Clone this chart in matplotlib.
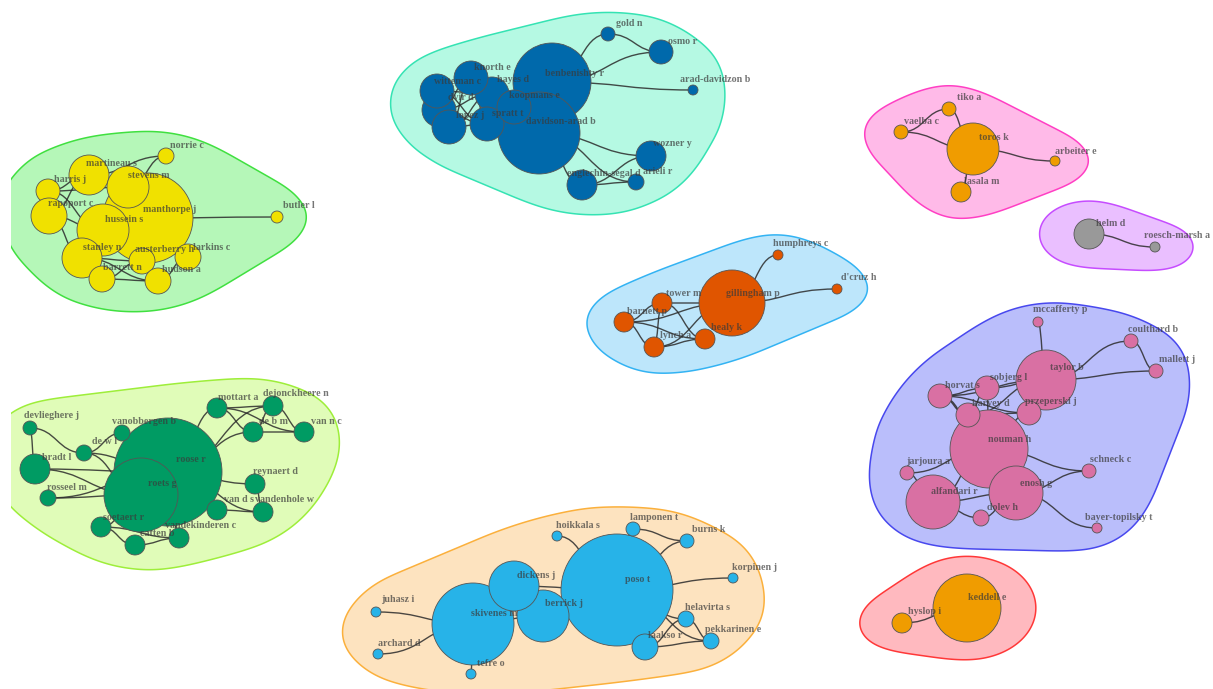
import numpy as np
import matplotlib.pyplot as plt
from matplotlib.path import Path
from matplotlib.patches import PathPatch, Circle, Polygon


# node tables: name, x, y, radius, label x, label y  (layout in pixels)
yellow_nodes = [
    ("manthorpe j", 148, 218, 45, 143, 209),
    ("hussein s", 103, 230, 26, 105, 220),
    ("martineau s", 89, 175, 20, 86, 163),
    ("stevens m", 128, 187, 21, 128, 175),
    ("harris j", 48, 191, 12, 54, 180),
    ("rapoport c", 49, 216, 18, 48, 203),
    ("stanley n", 82, 258, 20, 83, 247),
    ("austerberry h", 142, 261, 13, 135, 249),
    ("larkins c", 188, 257, 13, 193, 247),
    ("barrett n", 102, 279, 13, 103, 268),
    ("hudson a", 158, 281, 13, 162, 270),
    ("norrie c", 166, 156, 8, 170, 145),
    ("butler l", 277, 217, 6, 283, 206),
]
yellow_edges = [
    ("norrie c", "martineau s"), ("norrie c", "stevens m"), ("butler l", "manthorpe j"),
    ("harris j", "martineau s"), ("harris j", "rapoport c"), ("harris j", "hussein s"),
    ("rapoport c", "hussein s"), ("rapoport c", "stanley n"), ("martineau s", "stevens m"),
    ("stanley n", "barrett n"), ("stanley n", "austerberry h"), ("barrett n", "hudson a"),
    ("austerberry h", "hudson a"), ("hudson a", "larkins c"), ("barrett n", "austerberry h"),
    ("rapoport c", "martineau s"), ("harris j", "stevens m"), ("stanley n", "hudson a"),
]

blue_nodes = [
    ("benbenishty r", 552, 82, 39, 545, 74),
    ("davidson-arad b", 539, 133, 41, 526, 122),
    ("hayes d", 492, 94, 17, 497, 80),
    ("knorth e", 471, 78, 17, 474, 67),
    ("dvir d", 439, 110, 17, 448, 97),
    ("witteman c", 437, 91, 17, 434, 81),
    ("lopez j", 449, 127, 17, 456, 116),
    ("spratt t", 487, 124, 17, 492, 113),
    ("koopmans e", 514, 107, 17, 509, 95),
    ("gold n", 608, 34, 7, 616, 23),
    ("osmo r", 661, 52, 12, 668, 41),
    ("arad-davidzon b", 693, 90, 5, 680, 79),
    ("wozner y", 651, 156, 15, 653, 144),
    ("englechin-segal d", 582, 185, 15, 567, 173),
    ("arieli r", 636, 182, 8, 643, 172),
]
blue_edges = [
    ("gold n", "benbenishty r"), ("gold n", "osmo r"), ("osmo r", "benbenishty r"),
    ("arad-davidzon b", "benbenishty r"), ("davidson-arad b", "wozner y"),
    ("davidson-arad b", "arieli r"), ("davidson-arad b", "englechin-segal d"),
    ("englechin-segal d", "wozner y"), ("englechin-segal d", "arieli r"),
    ("witteman c", "lopez j"), ("witteman c", "spratt t"), ("dvir d", "knorth e"),
    ("dvir d", "spratt t"), ("lopez j", "hayes d"), ("knorth e", "lopez j"),
    ("hayes d", "koopmans e"), ("witteman c", "hayes d"), ("dvir d", "hayes d"),
    ("lopez j", "spratt t"), ("knorth e", "spratt t"),
]

toros_nodes = [
    ("toros k", 973, 149, 26, 979, 138),
    ("tiko a", 949, 109, 7, 957, 98),
    ("vaelba c", 901, 132, 7, 904, 122),
    ("arbeiter e", 1055, 161, 5, 1055, 151),
    ("lasala m", 961, 192, 10, 964, 182),
]
toros_edges = [
    ("tiko a", "vaelba c"), ("tiko a", "toros k"), ("vaelba c", "toros k"),
    ("toros k", "arbeiter e"), ("toros k", "lasala m"),
]

helm_nodes = [
    ("helm d", 1089, 234, 15, 1096, 224),
    ("roesch-marsh a", 1155, 247, 5, 1144, 236),
]
helm_edges = [("helm d", "roesch-marsh a")]

gill_nodes = [
    ("gillingham p", 732, 303, 33, 726, 293),
    ("tower m", 662, 303, 10, 666, 293),
    ("barnett p", 624, 322, 10, 627, 311),
    ("lynch a", 654, 347, 10, 660, 335),
    ("healy k", 705, 339, 10, 711, 328),
    ("humphreys c", 778, 255, 5, 773, 244),
    ("d'cruz h", 837, 289, 5, 841, 278),
]
gill_edges = [
    ("humphreys c", "gillingham p"), ("d'cruz h", "gillingham p"), ("tower m", "gillingham p"),
    ("barnett p", "tower m"), ("barnett p", "gillingham p"), ("barnett p", "lynch a"),
    ("barnett p", "healy k"), ("lynch a", "healy k"), ("tower m", "healy k"),
    ("lynch a", "gillingham p"), ("tower m", "lynch a"),
]

green_nodes = [
    ("roose r", 168, 472, 54, 176, 459),
    ("roets g", 141, 495, 37, 148, 484),
    ("devlieghere j", 30, 428, 7, 24, 416),
    ("bradt l", 35, 469, 15, 42, 458),
    ("rosseel m", 48, 498, 8, 47, 488),
    ("de w l", 84, 453, 8, 92, 442),
    ("vanobbergen b", 122, 433, 8, 112, 422),
    ("mottart a", 217, 408, 10, 218, 397),
    ("dejonckheere n", 273, 406, 10, 263, 394),
    ("de b m", 253, 432, 10, 259, 422),
    ("van n c", 304, 432, 10, 311, 421),
    ("reynaert d", 255, 484, 10, 253, 472),
    ("van d s", 217, 510, 10, 224, 500),
    ("vandenhole w", 263, 512, 10, 255, 500),
    ("soetaert r", 101, 527, 10, 103, 517),
    ("vandekinderen c", 179, 538, 10, 165, 526),
    ("catten b", 135, 545, 10, 140, 533),
]
green_edges = [
    ("devlieghere j", "bradt l"), ("devlieghere j", "de w l"), ("de w l", "vanobbergen b"),
    ("de w l", "roose r"), ("bradt l", "roose r"), ("bradt l", "roets g"),
    ("rosseel m", "roets g"), ("rosseel m", "roose r"), ("mottart a", "dejonckheere n"),
    ("mottart a", "de b m"), ("dejonckheere n", "van n c"), ("de b m", "van n c"),
    ("dejonckheere n", "de b m"), ("mottart a", "roose r"), ("de b m", "roose r"),
    ("dejonckheere n", "roose r"), ("reynaert d", "roose r"), ("van d s", "roose r"),
    ("vandenhole w", "roose r"), ("reynaert d", "vandenhole w"), ("van d s", "vandenhole w"),
    ("soetaert r", "catten b"), ("soetaert r", "vandekinderen c"),
    ("catten b", "vandekinderen c"), ("soetaert r", "roets g"),
    ("vandekinderen c", "roose r"), ("mottart a", "van n c"), ("de w l", "roets g"),
]

pink_nodes = [
    ("nouman h", 989, 449, 39, 988, 439),
    ("taylor b", 1046, 380, 30, 1050, 368),
    ("alfandari r", 933, 502, 27, 931, 491),
    ("enosh g", 1016, 493, 27, 1020, 483),
    ("sobjerg l", 987, 388, 12, 990, 377),
    ("horvat s", 940, 396, 12, 945, 385),
    ("karvey d", 968, 415, 12, 972, 403),
    ("przeperski j", 1029, 413, 12, 1025, 402),
    ("mccafferty p", 1038, 322, 5, 1033, 310),
    ("coulthard b", 1131, 341, 7, 1128, 329),
    ("mallett j", 1156, 371, 7, 1159, 359),
    ("jarjoura a", 907, 473, 7, 906, 462),
    ("schneck c", 1089, 471, 7, 1090, 459),
    ("dolev h", 981, 518, 8, 987, 507),
    ("bayer-topilsky t", 1097, 528, 5, 1085, 517),
]
pink_edges = [
    ("mccafferty p", "taylor b"), ("coulthard b", "taylor b"), ("coulthard b", "mallett j"),
    ("mallett j", "taylor b"), ("horvat s", "sobjerg l"), ("horvat s", "karvey d"),
    ("horvat s", "przeperski j"), ("horvat s", "nouman h"), ("sobjerg l", "taylor b"),
    ("sobjerg l", "karvey d"), ("karvey d", "przeperski j"), ("karvey d", "taylor b"),
    ("przeperski j", "nouman h"), ("sobjerg l", "nouman h"), ("jarjoura a", "nouman h"),
    ("jarjoura a", "alfandari r"), ("alfandari r", "enosh g"), ("alfandari r", "dolev h"),
    ("enosh g", "dolev h"), ("enosh g", "schneck c"), ("nouman h", "schneck c"),
    ("enosh g", "bayer-topilsky t"), ("alfandari r", "nouman h"), ("horvat s", "taylor b"),
]

bottom_nodes = [
    ("poso t", 617, 590, 56, 625, 579),
    ("skivenes m", 473, 624, 41, 471, 614),
    ("berrick j", 543, 616, 26, 545, 604),
    ("dickens j", 514, 586, 25, 517, 575),
    ("hoikkala s", 557, 536, 5, 556, 525),
    ("lamponen t", 633, 529, 7, 630, 517),
    ("burns k", 687, 541, 7, 692, 530),
    ("korpinen j", 733, 578, 5, 732, 567),
    ("juhasz i", 376, 612, 5, 381, 600),
    ("archard d", 378, 654, 5, 378, 644),
    ("tefre o", 471, 674, 5, 477, 664),
    ("helavirta s", 686, 619, 8, 685, 608),
    ("pekkarinen e", 711, 641, 8, 705, 629),
    ("laakso r", 645, 647, 13, 648, 636),
]
bottom_edges = [
    ("hoikkala s", "poso t"), ("lamponen t", "burns k"), ("lamponen t", "poso t"),
    ("burns k", "poso t"), ("korpinen j", "poso t"), ("dickens j", "poso t"),
    ("dickens j", "skivenes m"), ("berrick j", "skivenes m"), ("juhasz i", "skivenes m"),
    ("archard d", "skivenes m"), ("tefre o", "skivenes m"), ("helavirta s", "poso t"),
    ("helavirta s", "laakso r"), ("helavirta s", "pekkarinen e"),
    ("laakso r", "pekkarinen e"), ("poso t", "pekkarinen e"), ("poso t", "laakso r"),
]

keddell_nodes = [
    ("keddell e", 967, 608, 34, 968, 597),
    ("hyslop i", 902, 623, 10, 908, 611),
]
keddell_edges = [("hyslop i", "keddell e")]

# cluster: nodes, edges, node colour, hull fill, hull line
clusters = [
    (yellow_nodes, yellow_edges, "#f0e100", "#b5f7b8", "#40e040"),
    (blue_nodes, blue_edges, "#0069ab", "#b5f9e3", "#35e3b3"),
    (toros_nodes, toros_edges, "#f09c00", "#ffbae8", "#ff3fc4"),
    (helm_nodes, helm_edges, "#999999", "#eabfff", "#c64cff"),
    (gill_nodes, gill_edges, "#e05500", "#bde6fb", "#33b3f3"),
    (green_nodes, green_edges, "#009b63", "#e0fcb8", "#9eee3a"),
    (pink_nodes, pink_edges, "#d970a3", "#babefb", "#4848ee"),
    (bottom_nodes, bottom_edges, "#27b3e8", "#fde3bf", "#fbb03c"),
    (keddell_nodes, keddell_edges, "#f09c00", "#ffb9bf", "#ff3838"),
]


def convex_hull(pts):
    pts = sorted(set(pts))
    def cross(o, a, b):
        return (a[0] - o[0]) * (b[1] - o[1]) - (a[1] - o[1]) * (b[0] - o[0])
    lower, upper = [], []
    for p in pts:
        while len(lower) >= 2 and cross(lower[-2], lower[-1], p) <= 0:
            lower.pop()
        lower.append(p)
    for p in reversed(pts):
        while len(upper) >= 2 and cross(upper[-2], upper[-1], p) <= 0:
            upper.pop()
        upper.append(p)
    return lower[:-1] + upper[:-1]


def hull_shape(nodes, padx=38, pady=19, n=600, win=0.12):
    t = np.linspace(0, 2 * np.pi, 60, endpoint=False)
    pts = []
    for _, x, y, r, _, _ in nodes:
        xs = x + (r + padx) * np.cos(t)
        ys = y + (r + pady) * np.sin(t)
        pts += [(round(a, 2), round(b, 2)) for a, b in zip(xs, ys)]
    h = np.array(convex_hull(pts))
    # resample evenly along the outline, then smooth it (periodic moving average)
    closed = np.vstack([h, h[:1]])
    seg = np.hypot(*np.diff(closed, axis=0).T)
    s = np.concatenate([[0], np.cumsum(seg)])
    u = np.linspace(0, s[-1], n, endpoint=False)
    rx = np.interp(u, s, closed[:, 0])
    ry = np.interp(u, s, closed[:, 1])
    k = max(3, int(n * win))
    kern = np.ones(k) / k
    sx = np.convolve(np.concatenate([rx[-k:], rx, rx[:k]]), kern, mode="same")[k:-k]
    sy = np.convolve(np.concatenate([ry[-k:], ry, ry[:k]]), kern, mode="same")[k:-k]
    return np.column_stack([sx, sy])


def edge_path(p0, p1):
    xm = (p0[0] + p1[0]) / 2
    verts = [p0, (xm, p0[1]), (xm, p1[1]), p1]
    return Path(verts, [Path.MOVETO, Path.CURVE4, Path.CURVE4, Path.CURVE4])


fig = plt.figure(figsize=(12.13, 6.89), dpi=100)
ax = fig.add_axes([11 / 1213, 0, 1 - 11 / 1213, 1])
ax.set_xlim(11, 1213)
ax.set_ylim(689, 0)
ax.axis("off")

# hulls
for nodes, edges, col, fill, line in clusters:
    ax.add_patch(Polygon(hull_shape(nodes), closed=True, facecolor=fill,
                         edgecolor=line, linewidth=1.1, zorder=1))

# edges
for nodes, edges, col, fill, line in clusters:
    pos = {n[0]: (n[1], n[2]) for n in nodes}
    for a, b in edges:
        ax.add_patch(PathPatch(edge_path(pos[a], pos[b]), facecolor="none",
                               edgecolor="#2b2b2b", linewidth=1.0, alpha=0.85, zorder=2))

# nodes
for nodes, edges, col, fill, line in clusters:
    for name, x, y, r, lx, ly in nodes:
        ax.add_patch(Circle((x, y), r, facecolor=col, edgecolor="#555555",
                            linewidth=0.6, zorder=3))

# labels
for nodes, edges, col, fill, line in clusters:
    for name, x, y, r, lx, ly in nodes:
        ax.text(lx, ly, name, fontsize=7.2, family="Liberation Serif", weight="bold",
                color="#3a3a3a", alpha=0.7, ha="left", va="center", zorder=4)

fig.savefig("out.png", dpi=100)
